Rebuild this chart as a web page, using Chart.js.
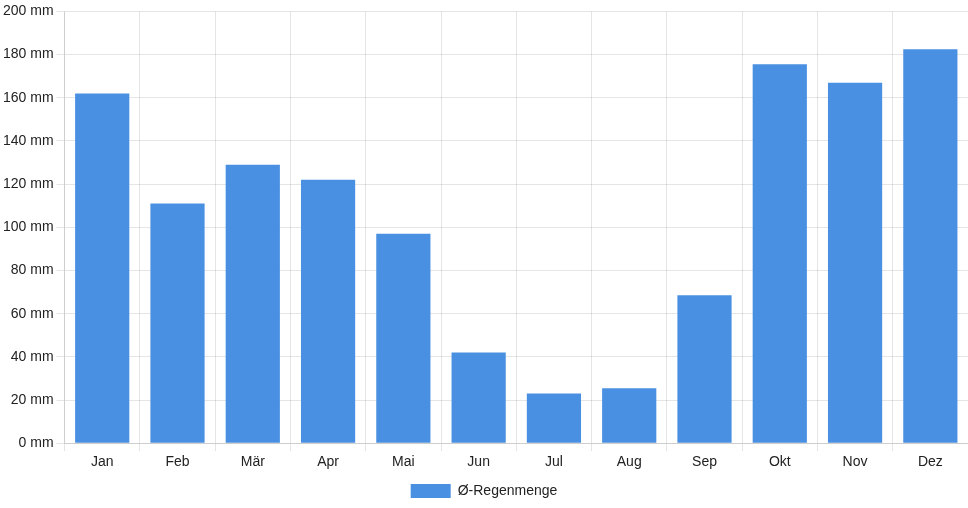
<!DOCTYPE html>
<html>
<head>
<meta charset="utf-8">
<script src="https://cdn.jsdelivr.net/npm/chart.js@4"></script>
<style>
    html, body { margin: 0; padding: 0; background: #fff; }
    #wrap { width: 968px; height: 508px; position: relative; }
</style>
</head>
<body>
<div id="wrap"><canvas id="regen"></canvas></div>
<script>
    const monate = ['Jan', 'Feb', 'Mär', 'Apr', 'Mai', 'Jun', 'Jul', 'Aug', 'Sep', 'Okt', 'Nov', 'Dez'];
    const regenmenge = [162, 111, 129, 122, 97, 42, 23, 25.5, 68.5, 175.5, 167, 182.5];
    const serienName = 'Ø-Regenmenge';
    const einheit = ' mm';

    const tickColor = '#222';
    const gridColor = 'rgba(0, 0, 0, 0.1)';

    Chart.defaults.font.family = '"Liberation Sans", Arial, sans-serif';
    Chart.defaults.font.size = 14;
    Chart.defaults.color = tickColor;

    new Chart(document.getElementById('regen').getContext('2d'), {
        type: 'bar',
        data: {
            labels: monate,
            datasets: [
                {
                    label: serienName,
                    data: regenmenge,
                    backgroundColor: '#4a90e2',
                    borderColor: '#4a90e2',
                    borderWidth: 0
                }
            ]
        },
        options: {
            responsive: true,
            maintainAspectRatio: false,
            animation: false,
            layout: { padding: { top: 4 } },
            plugins: {
                legend: {
                    position: 'bottom',
                    labels: { boxWidth: 40 }
                },
                tooltip: { enabled: false }
            },
            scales: {
                x: {
                    ticks: { color: tickColor },
                    grid: { color: gridColor }
                },
                y: {
                    min: 0,
                    max: 200,
                    ticks: {
                        stepSize: 20,
                        color: tickColor,
                        callback: function (v) { return v + einheit; }
                    },
                    grid: { color: gridColor }
                }
            }
        }
    });
</script>
</body>
</html>
